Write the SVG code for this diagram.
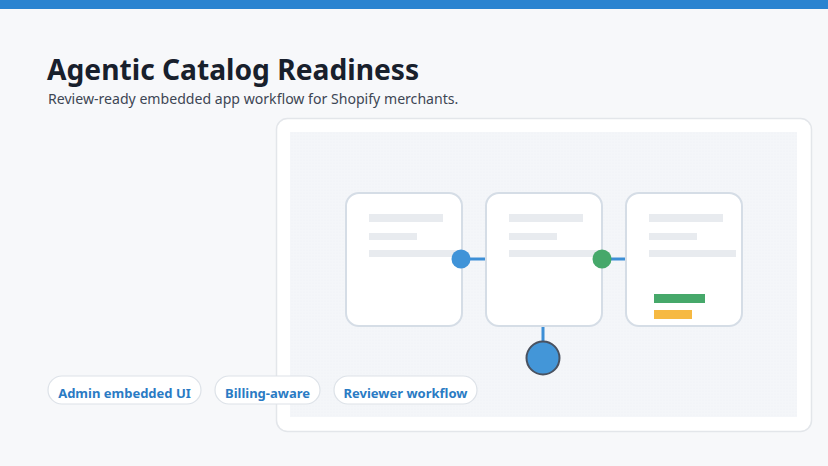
<svg xmlns="http://www.w3.org/2000/svg" width="828" height="466" viewBox="0 0 828 466">
<defs>
<pattern id="dots" width="3" height="3" patternUnits="userSpaceOnUse">
<rect width="3" height="3" fill="#f4f6f9"/>
<circle cx="1" cy="1" r="0.4" fill="#e9edf2"/>
</pattern>
<style>
.title{font-family:"Noto Sans","Open Sans",sans-serif;font-weight:700;font-size:28.2px;fill:#18202c}
.sub{font-family:"Noto Sans","Open Sans",sans-serif;font-size:14.1px;fill:#3d4654}
.card{fill:#ffffff;stroke:#d5dde6;stroke-width:2}
.ln{fill:#e8ebef}
.conn{stroke:#3d8fd6;stroke-width:3;fill:none}
.pill{fill:#ffffff;stroke:#dde2e8;stroke-width:1.2}
.pt{font-family:"Noto Sans","Open Sans",sans-serif;font-weight:700;font-size:13px;fill:#2a7bc4;text-anchor:middle}
</style>
</defs>
<rect width="828" height="466" fill="#f7f8fa"/>
<rect width="828" height="9" fill="#2a83d0"/>
<g id="header">
<text class="title" x="47" y="80">Agentic Catalog Readiness</text>
<text class="sub" x="48" y="104">Review-ready embedded app workflow for Shopify merchants.</text>
</g>
<g id="panel">
<rect x="276.5" y="118.5" width="535" height="313" rx="11" fill="#ffffff" stroke="#e3e6ea" stroke-width="1.5"/>
<rect x="290" y="132" width="507" height="285" fill="url(#dots)"/>
</g>
<g id="connectors">
<line class="conn" x1="461" y1="259" x2="486" y2="259"/>
<line class="conn" x1="602" y1="259" x2="626" y2="259"/>
<line class="conn" x1="543" y1="326" x2="543" y2="345"/>
</g>
<g id="card1">
<rect class="card" x="346" y="193" width="116" height="133" rx="13"/>
<rect class="ln" x="369" y="214" width="74" height="8"/>
<rect class="ln" x="369" y="233" width="48" height="7"/>
<rect class="ln" x="369" y="250" width="91" height="7"/>
</g>
<g id="card2">
<rect class="card" x="486" y="193" width="116" height="133" rx="13"/>
<rect class="ln" x="509" y="214" width="74" height="8"/>
<rect class="ln" x="509" y="233" width="48" height="7"/>
<rect class="ln" x="509" y="250" width="91" height="7"/>
</g>
<g id="card3">
<rect class="card" x="626" y="193" width="116" height="133" rx="13"/>
<rect class="ln" x="649" y="214" width="74" height="8"/>
<rect class="ln" x="649" y="233" width="48" height="7"/>
<rect class="ln" x="649" y="250" width="87" height="7"/>
<rect x="654" y="294" width="51" height="9" fill="#46a86a"/>
<rect x="654" y="310" width="38" height="9" fill="#f6b942"/>
</g>
<g id="node-blue">
<circle cx="461" cy="259" r="9.5" fill="#3f93d8"/>
</g>
<g id="node-green">
<circle cx="602" cy="259" r="9.5" fill="#46a86a"/>
</g>
<g id="node-bottom">
<circle cx="543" cy="358" r="16.5" fill="#4396d8" stroke="#4a5260" stroke-width="2"/>
</g>
<g id="pill1">
<rect class="pill" x="48" y="376" width="153" height="28" rx="14"/>
<text class="pt" x="124.5" y="397.5">Admin embedded UI</text>
</g>
<g id="pill2">
<rect class="pill" x="215" y="376" width="105" height="28" rx="14"/>
<text class="pt" x="267.5" y="397.5">Billing-aware</text>
</g>
<g id="pill3">
<rect class="pill" x="334" y="376" width="143" height="28" rx="14"/>
<text class="pt" x="405.5" y="397.5">Reviewer workflow</text>
</g>
</svg>
